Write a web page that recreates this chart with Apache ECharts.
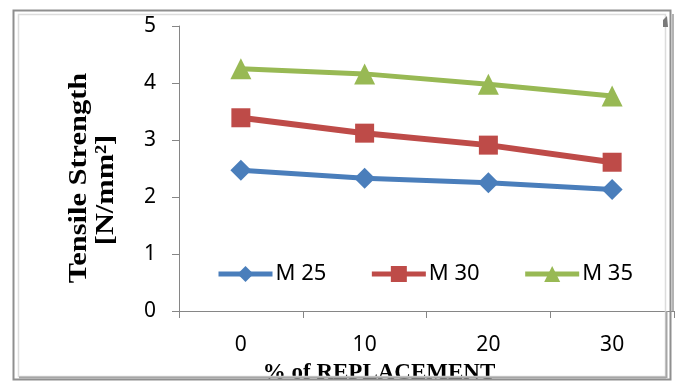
<!DOCTYPE html>
<html>
<head>
<meta charset="utf-8">
<script src="https://cdn.jsdelivr.net/npm/echarts@6/dist/echarts.min.js"></script>
<style>
  html, body { margin: 0; padding: 0; background: #fff; }
  #chart { width: 677px; height: 382px; }
</style>
</head>
<body>
<div id="chart"></div>
<script>
// Replacement percentages on the x axis
const categories = ['0', '10', '20', '30'];
// Tensile strength per grade, N/mm²
const m25 = [2.47, 2.33, 2.25, 2.13];
const m30 = [3.39, 3.12, 2.91, 2.61];
const m35 = [4.25, 4.16, 3.98, 3.77];
const seriesNames = ['M 25', 'M 30', 'M 35'];

const chart = echarts.init(document.getElementById('chart'), null, { renderer: 'canvas' });

const labelFont = '"Noto Sans", "Liberation Sans", Arial, sans-serif';
const titleFont = '"Liberation Serif", "Times New Roman", serif';
const axisGray = '#868686';

function lineSeries(name, data, color, symbol, size, width) {
  return {
    name: name,
    type: 'line',
    data: data,
    symbol: symbol,
    symbolSize: size,
    lineStyle: { color: color, width: width },
    itemStyle: { color: color },
    emphasis: { disabled: true },
    z: 3
  };
}

chart.setOption({
  animation: false,
  grid: { left: 179, right: 3, top: 26, bottom: 71, containLabel: false },
  legend: {
    left: 211,
    top: 258,
    itemWidth: 54,
    itemHeight: 20,
    itemGap: 43,
    lineStyle: { width: 5 },
    textStyle: { fontFamily: labelFont, fontSize: 22, color: '#000', width: 55, padding: [0, 0, 0, -2] },
    data: seriesNames
  },
  xAxis: {
    type: 'category',
    data: categories,
    boundaryGap: true,
    axisLine: { lineStyle: { color: axisGray, width: 1 } },
    axisTick: { show: true, length: 7, lineStyle: { color: axisGray } },
    axisLabel: { fontFamily: labelFont, fontSize: 21, color: '#000', margin: 24 },
    splitLine: { show: false }
  },
  yAxis: {
    type: 'value',
    min: 0,
    max: 5,
    interval: 1,
    axisLine: { show: true, lineStyle: { color: axisGray, width: 1 } },
    axisTick: { show: true, length: 7, lineStyle: { color: axisGray } },
    axisLabel: { fontFamily: labelFont, fontSize: 21, color: '#000', margin: 23 },
    splitLine: { show: false }
  },
  series: [
    lineSeries(seriesNames[0], m25, '#4a7ebb', 'diamond', 21, 5),
    lineSeries(seriesNames[1], m30, '#be4b48', 'rect', 19, 6),
    lineSeries(seriesNames[2], m35, '#98b954', 'triangle', 21, 5)
  ],
  graphic: [
    // outer frame
    {
      type: 'rect', silent: true, z: 10,
      shape: { x: 13.5, y: 10.5, width: 657, height: 369 },
      style: { fill: 'none', stroke: '#8f8f8f', lineWidth: 2 }
    },
    // inner light frame
    {
      type: 'rect', silent: true, z: 10,
      shape: { x: 18.5, y: 14.5, width: 647, height: 362 },
      style: { fill: 'none', stroke: '#dcdcdc', lineWidth: 1.5 }
    },
    // shaded lower edge of the inner frame
    {
      type: 'line', silent: true, z: 10,
      shape: { x1: 19, y1: 377.5, x2: 666, y2: 377.5 },
      style: { stroke: '#a6a6a6', lineWidth: 2 }
    },
    {
      type: 'line', silent: true, z: 10,
      shape: { x1: 666.5, y1: 311, x2: 666.5, y2: 378 },
      style: { stroke: '#a6a6a6', lineWidth: 2 }
    },
    // right border of the plot area
    {
      type: 'line', silent: true, z: 10,
      shape: { x1: 673, y1: 14, x2: 673, y2: 311 },
      style: { stroke: '#9a9a9a', lineWidth: 1.5 }
    },
    // small dark corner mark at the top right
    {
      type: 'polygon', silent: true, z: 10,
      shape: { points: [[663, 20], [667, 16], [668, 27], [663, 27]] },
      style: { fill: '#7a7a7a' }
    },
    // y axis title, two lines
    {
      type: 'text', silent: true, z: 5,
      x: 79, y: 178, rotation: Math.PI / 2, scaleX: 1.17,
      style: {
        text: 'Tensile Strength',
        font: 'bold 26px ' + titleFont,
        fill: '#000',
        align: 'center',
        verticalAlign: 'middle'
      }
    },
    {
      type: 'text', silent: true, z: 5,
      x: 106, y: 190, rotation: Math.PI / 2, scaleX: 1.17,
      style: {
        text: '[N/mm²]',
        font: 'bold 26px ' + titleFont,
        fill: '#000',
        align: 'center',
        verticalAlign: 'middle'
      }
    },
    // x axis title
    {
      type: 'text', silent: true, z: 5,
      x: 379, y: 373,
      style: {
        text: '% of REPLACEMENT',
        font: 'bold 23px ' + titleFont,
        fill: '#000',
        align: 'center',
        verticalAlign: 'middle'
      }
    }
  ]
});
</script>
</body>
</html>
